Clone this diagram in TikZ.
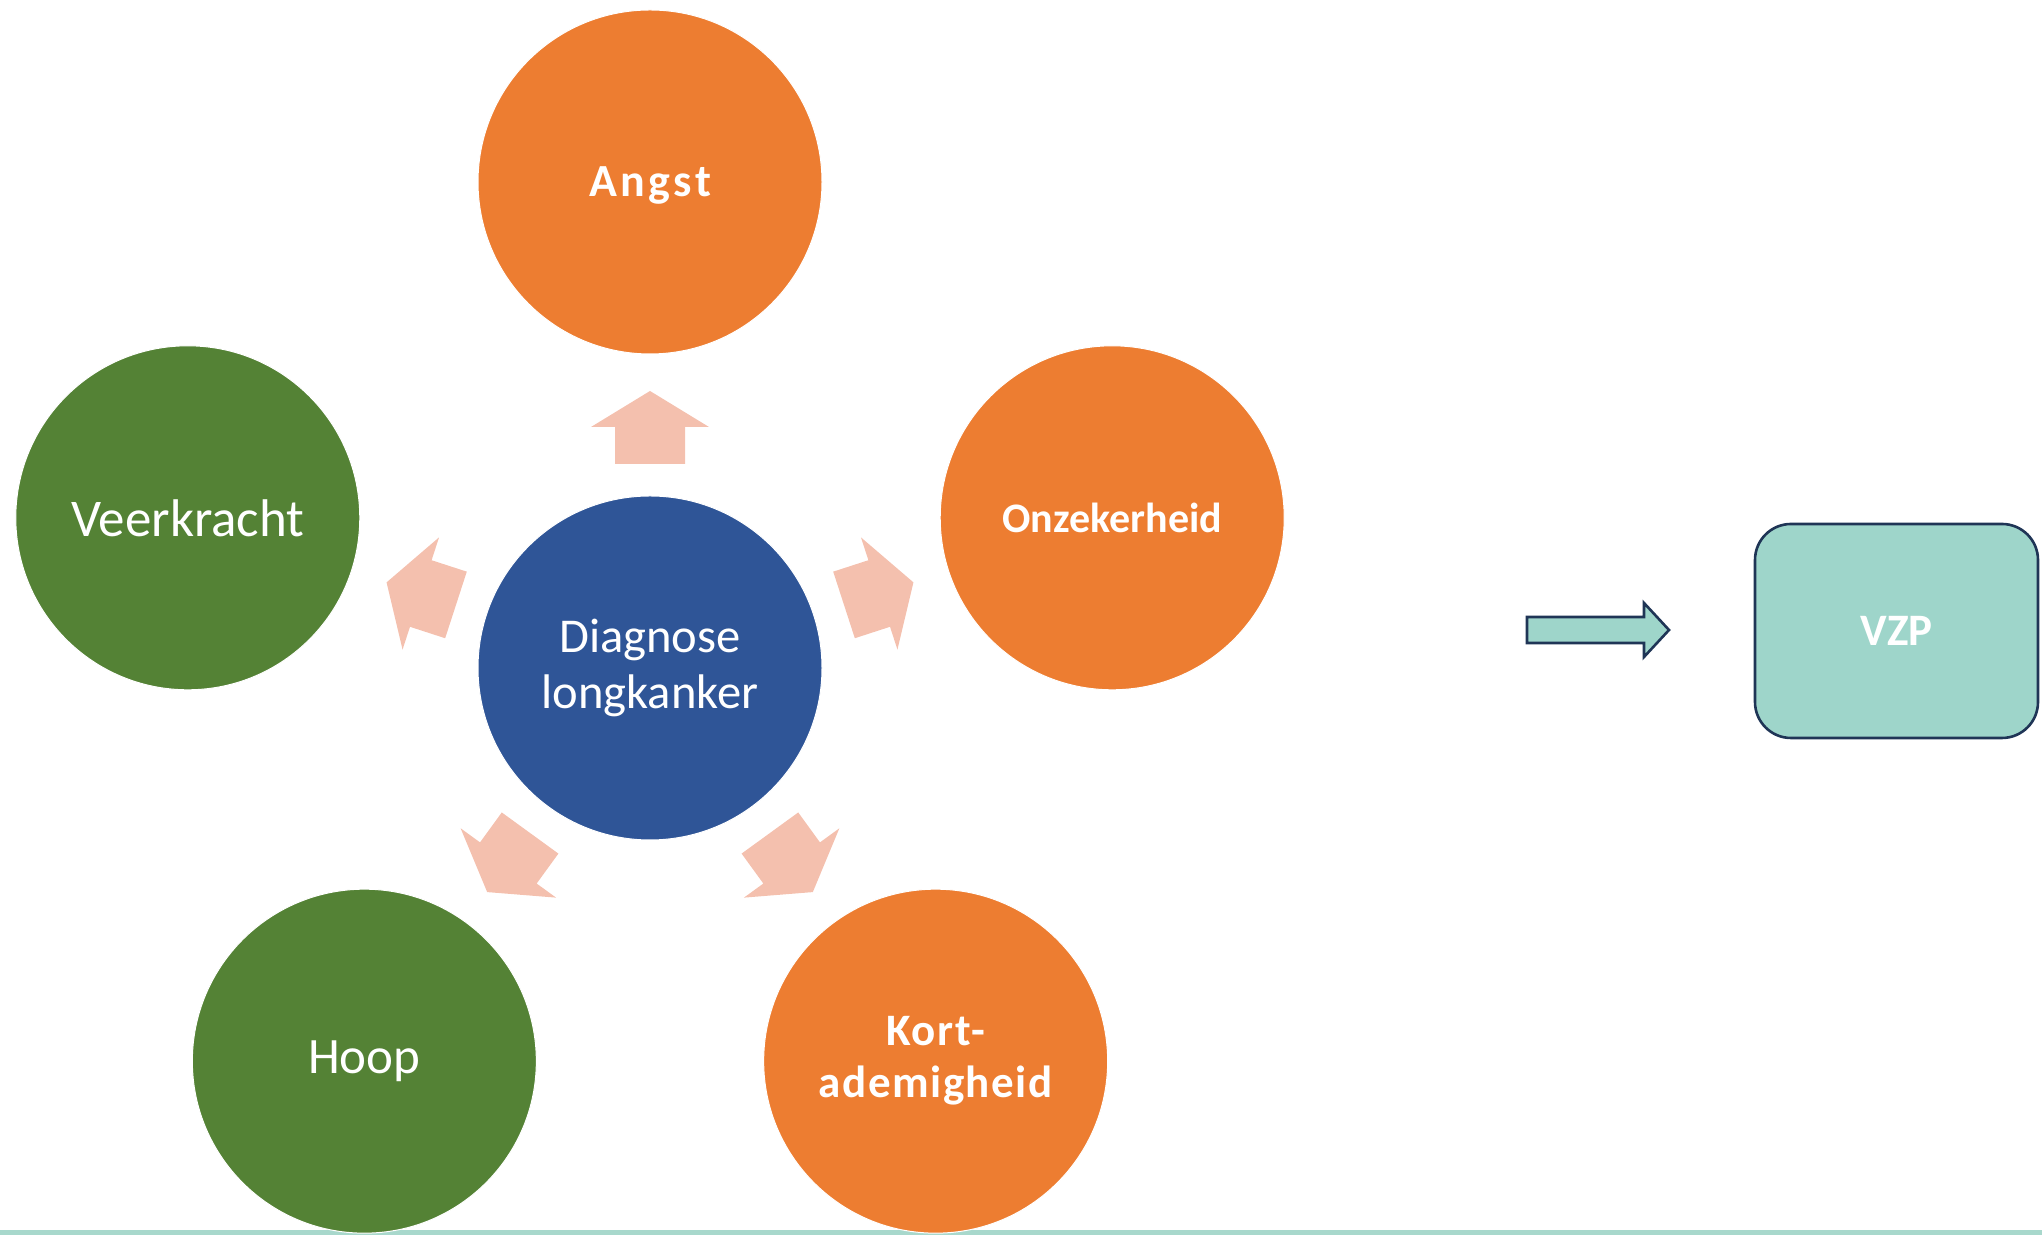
\documentclass[tikz,border=0pt]{standalone}
\usepackage{fontspec}
\setmainfont{Carlito}
\usetikzlibrary{positioning,calc}

\definecolor{angstorange}{HTML}{ED7D31}
\definecolor{hoopgreen}{HTML}{548235}
\definecolor{diagblue}{HTML}{2F5597}
\definecolor{petalpink}{HTML}{F4C0AE}
\definecolor{vzpteal}{HTML}{9ED5CA}
\definecolor{vzpnavy}{HTML}{1F3556}
\definecolor{baseteal}{HTML}{A8D8CC}

\begin{document}
\begin{tikzpicture}[%
		x=0.5pt,
		y=0.5pt,
		bubble/.style={%
			circle,
			minimum size=172pt,
			inner sep=0pt,
			draw=white,
			line width=0.5pt,
			text=white,
			align=center
		},
		worry/.style={bubble, fill=angstorange, font=\bfseries\fontsize{21}{26}\selectfont},
		spaced/.style 2 args={font=\bfseries\fontsize{#1}{26}\selectfont\addfontfeature{LetterSpace=#2}},
		strength/.style={bubble, fill=hoopgreen, font=\fontsize{25.5}{31}\selectfont},
		core/.style={bubble, fill=diagblue, font=\fontsize{24.3}{28.3}\selectfont},
		petal/.style={fill=petalpink},
		hint/.style={fill=vzpteal, draw=vzpnavy, line width=1.3pt},
		goal/.style={%
			rectangle,
			rounded corners=18pt,
			minimum width=141.5pt,
			minimum height=107pt,
			fill=vzpteal,
			draw=vzpnavy,
			line width=1.3pt,
			text=white,
			spaced={22.5}{0}
		}
		]
		\useasboundingbox (0,0) rectangle (2042,1235);
		\fill[baseteal] (0,0) rectangle (2042,5);
		
		\node[core] (diag) at (650,567)                                              {Diagnose\\longkanker};
		\node[worry, spaced={23}{7.5}, text depth=0pt] (angst) at ($(diag)+(90:486)$) {Angst};
		\node[worry] (onzeker) at ($(diag)+(18:486)$)                                 {Onzekerheid};
		\node[worry, spaced={22.5}{3.5}] (kort) at ($(diag)+(306:486)$)               {Kort-\\ademigheid};
		\node[strength] (hoop) at ($(diag)+(234:486)$)                                {Hoop};
		\node[strength, font=\fontsize{26.5}{31}\selectfont] (veer) at ($(diag)+(162:486)$) {Veerkracht};
		
		% block arrows round the centre
		\foreach \a in {90,162,18,234,306}
			\fill[petal, shift={(diag.center)}, rotate=\a]
				(204,-35) -- (241,-35) -- (241,-59) -- (277,0) -- (241,59) -- (241,35) -- (204,35) -- cycle;
		
		\node[goal] (vzp) at (1896.5,604)                                             {VZP};
		\coordinate (tail) at (1527,605);
		\coordinate (tip) at (1669,605);
		\draw[hint] (tail) ++(0,-13) -- ++(117,0) -- ++(0,-14) -- (tip) -- ++(-25,27) -- ++(0,-14) -- ++(-117,0) -- cycle;
		\end{tikzpicture}
\end{document}
